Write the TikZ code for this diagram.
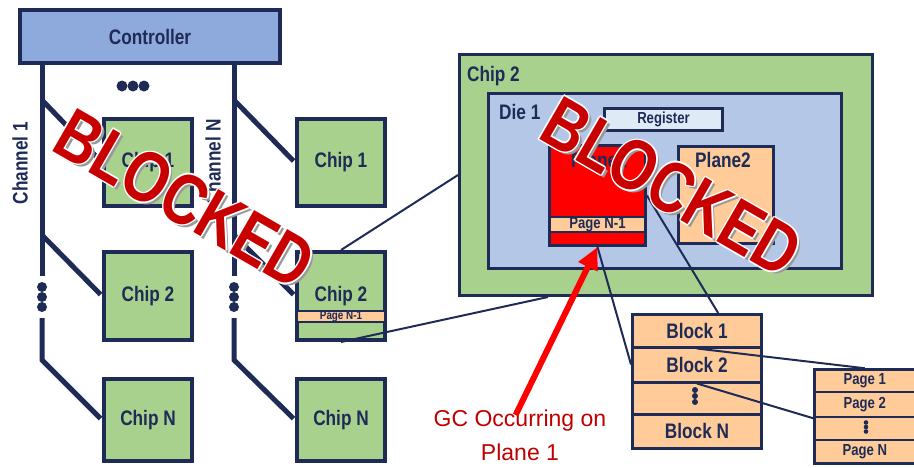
\documentclass[tikz,border=0pt]{standalone}
\usepackage{fontspec}
\setmainfont{Liberation Sans}
\newfontfamily\narrowfont[FakeStretch=0.82]{Liberation Sans}
\newfontfamily\stampfont[FakeStretch=0.8]{Liberation Sans}
\usetikzlibrary{arrows.meta}

\definecolor{navy}{RGB}{31,43,87}
\definecolor{ctrlblue}{RGB}{142,169,219}
\definecolor{chipgreen}{RGB}{169,209,142}
\definecolor{dieblue}{RGB}{180,199,231}
\definecolor{regblue}{RGB}{222,235,247}
\definecolor{peach}{RGB}{255,204,153}
\definecolor{gcred}{RGB}{192,0,0}
\definecolor{stampred}{RGB}{200,0,0}

\begin{document}
\begin{tikzpicture}[x=1pt,y=-1pt,
	box/.style={draw=navy,line width=3pt,rectangle,inner sep=0pt,text=navy,
		font=\narrowfont\bfseries\fontsize{21}{24}\selectfont},
	chip/.style={box,line width=4pt,fill=chipgreen,minimum width=88pt},
	strip/.style={box,line width=2.5pt,fill=peach},
	blockrow/.style={box,fill=peach,minimum width=129pt},
	pagerow/.style={box,line width=2.5pt,fill=peach,minimum width=100.5pt,
		font=\narrowfont\bfseries\fontsize{16}{18}\selectfont},
	tag/.style={inner sep=0pt,text=navy,font=\narrowfont\bfseries\fontsize{21}{24}\selectfont},
	channel/.style={draw=navy,line width=5pt},
	link/.style={draw=navy,line width=2pt},
	stamp/.style={inner sep=0pt,rotate=-30,font=\stampfont\bfseries\fontsize{72}{72}\selectfont},
	]
	\useasboundingbox (0,0) rectangle (914,467);

	% controller and the two channels
	\node[box,fill=ctrlblue,line width=3.5pt,minimum width=260pt,minimum height=53pt] (ctrl) at (150,36.5) {Controller};
	\foreach \cx/\col in {148/A,341/B} {
		\node[chip,minimum height=87pt] (chip\col1) at (\cx,162.5) {Chip 1};
		\node[chip,minimum height=88pt] (chip\col2) at (\cx,296) {Chip 2};
		\node[chip,minimum height=82pt] (chip\col N) at (\cx,420) {Chip N};
	}
	\node[strip,line width=2pt,minimum width=88pt,minimum height=11pt,
		font=\narrowfont\bfseries\fontsize{12}{12}\selectfont] (stripB) at (341,316.5) {Page N-1};

	\foreach \bx/\col in {42/A,234/B} {
		\coordinate (bus\col top) at (\bx,62);
		\coordinate (bus\col one) at (\bx,100);
		\coordinate (bus\col two) at (\bx,235);
		\coordinate (bus\col gap) at (\bx,276);
		\coordinate (bus\col low) at (\bx,318);
		\coordinate (bus\col bend) at (\bx,360);
		\draw[channel] (bus\col top) -- (bus\col gap);
		\draw[channel,shorten >=2pt] (bus\col one) -- (chip\col1.west);
		\draw[channel,shorten >=2pt] (bus\col two) -- (chip\col2.west);
		\draw[channel,shorten >=2pt] (bus\col low) -- (bus\col bend) -- (chip\col N.west);
		\foreach \y in {287,297,307}
			\fill[navy] (\bx,\y) circle (5pt);
	}
	\foreach \x in {122,133,144}
		\fill[navy] (\x,86) circle (5.5pt);
	\node[tag,rotate=90] (ch1tag) at (20,163) {Channel 1};
	\node[tag,rotate=90] (chNtag) at (213,162) {Channel N};

	% zoom on chip 2
	\node[box,fill=chipgreen,minimum width=413pt,minimum height=241pt] (chipbig) at (666,175) {};
	\node[tag,anchor=west] (chipbigtag) at (467,76) {Chip 2};
	\node[box,fill=dieblue,minimum width=353pt,minimum height=175pt] (die) at (665,181) {};
	\node[tag,anchor=west] (dietag) at (499,112) {Die 1};
	\node[box,fill=regblue,minimum width=118pt,minimum height=22pt,
		font=\narrowfont\bfseries\fontsize{16}{18}\selectfont] (reg) at (663.5,119.5) {Register};
	\node[box,fill=red,minimum width=96pt,minimum height=100pt] (plane1) at (597.5,195.5) {};
	\node[tag] (plane1tag) at (599,160) {Plane1};
	\node[strip,minimum width=96pt,minimum height=15pt,
		font=\narrowfont\bfseries\fontsize{16}{16}\selectfont] (stripP) at (597.5,224.5) {Page N-1};
	\node[box,fill=peach,minimum width=95pt,minimum height=97pt] (plane2) at (726,195) {};
	\node[tag] (plane2tag) at (723,160) {Plane2};

	% blocks and pages
	\node[blockrow,minimum height=32.5pt] (blk1) at (697,330.75) {Block 1};
	\node[blockrow,minimum height=35pt] (blk2) at (697,364.5) {Block 2};
	\node[blockrow,minimum height=32pt] (blkdots) at (697,398) {};
	\node[blockrow,minimum height=34.5pt] (blkN) at (697,431.25) {Block N};
	\foreach \y in {390,396,402}
		\fill[navy] (695,\y) circle (3pt);
	\node[pagerow,minimum height=22.5pt] (pg1) at (864.75,380.75) {Page 1};
	\node[pagerow,minimum height=25pt] (pg2) at (864.75,404.5) {Page 2};
	\node[pagerow,minimum height=23pt] (pgdots) at (864.75,428.5) {};
	\node[pagerow,minimum height=23.5pt] (pgN) at (864.75,451.75) {Page N};
	\foreach \y in {422.5,427,431.5}
		\fill[navy] (866,\y) circle (2.3pt);

	% connectors
	\draw[link] (chipB2.north) -- (chipbig.west);
	\draw[link] (chipB2.south) -- (chipbig.south -| plane1.west);
	\draw[link] (plane1.south) -- (blk2.west);
	\draw[link] (plane1.east) -- (blk1.40);
	\draw[link] (blk1.south) -- (pg1.north);
	\draw[link] (blk2.south) -- (pg2.south west);

	% GC label
	\node[text=gcred,font=\fontsize{23}{34}\selectfont,align=center] (gctag) at (520,435) {GC Occurring on\\Plane 1};
	\draw[red,line width=6pt,shorten <=-10pt,-{Triangle[length=22pt,width=20pt]}] (gctag.north) -- (plane1.south);

	% stamps
	\foreach \sx/\sy/\nm in {185/199/stampA,672/187/stampB} {
		\node[stamp,text=black!40] at (\sx+3,\sy+3) {BLOCKED};
		\foreach \ox/\oy in {1.5/0,-1.5/0,0/1.5,0/-1.5,1/1,1/-1,-1/1,-1/-1}
			\node[stamp,text=white] at (\sx+\ox,\sy+\oy) {BLOCKED};
		\node[stamp,text=stampred] (\nm) at (\sx,\sy) {BLOCKED};
	}
\end{tikzpicture}
\end{document}
